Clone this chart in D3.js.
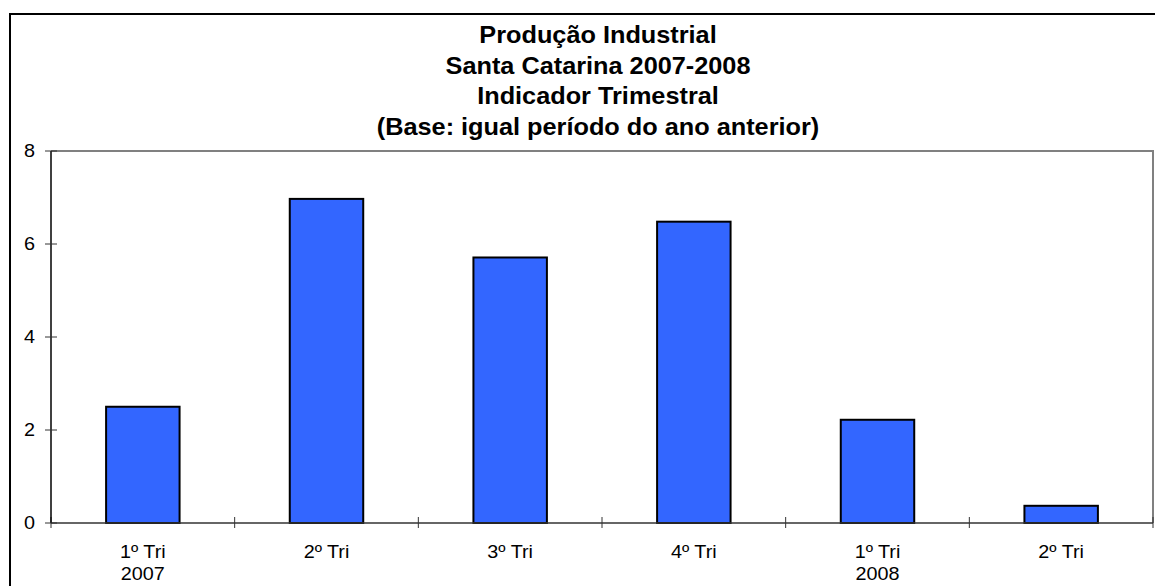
<!DOCTYPE html>
<html>
<head>
<meta charset="utf-8">
<script src="https://cdn.jsdelivr.net/npm/d3@7"></script>
<style>
  body { margin: 0; background: #fff; }
  text { font-family: "Liberation Sans", Arial, sans-serif; }
</style>
</head>
<body>
<div id="chart"></div>
<script>

var titleLines = ["Produção Industrial", "Santa Catarina 2007-2008", "Indicador Trimestral", "(Base: igual período do ano anterior)"];
var quarters = ["1º Tri", "2º Tri", "3º Tri", "4º Tri", "1º Tri", "2º Tri"];
var years = ["2007", "", "", "", "2008", ""];
var values = [2.5, 6.97, 5.71, 6.48, 2.22, 0.37];
var yTicks = [0, 2, 4, 6, 8];

var margin = { left: 51, right: 2, top: 151, bottom: 63 };
var width = 1155 - margin.left - margin.right;
var height = 586 - margin.top - margin.bottom;
var stretch = 1.1; // the original picture's text is a bit wide

var svg = d3.select("#chart")
  .append("svg")
    .attr("width", 1155)
    .attr("height", 586);

// outer chart border (runs off the right and bottom edges)
svg.append("rect")
  .attr("x", 10)
  .attr("y", 14)
  .attr("width", 1200)
  .attr("height", 700)
  .attr("fill", "none")
  .attr("stroke", "#000")
  .attr("stroke-width", 2);

svg.append("g")
  .selectAll("text")
  .data(titleLines).enter()
  .append("text")
    .attr("transform", function(d, i){ return "translate(598," + (43 + i * 30.5) + ") scale(" + stretch + ",1)" })
    .attr("text-anchor", "middle")
    .attr("font-size", "23px")
    .attr("font-weight", "bold")
    .text(function(d){ return d });

var g = svg.append("g")
  .attr("transform", "translate(" + margin.left + "," + margin.top + ")");

var x = d3.scaleBand()
  .domain(d3.range(quarters.length))
  .range([0, width]);

var y = d3.scaleLinear()
  .domain([0, 8])
  .range([height, 0]);

var barW = x.bandwidth() / 2.5;

// plot frame: top and right in gray
g.append("path")
  .attr("d", "M0,0H" + width + "V" + height)
  .attr("fill", "none")
  .attr("stroke", "#808080")
  .attr("stroke-width", 2);

g.selectAll(".bar")
  .data(values).enter()
  .append("rect")
    .attr("class", "bar")
    .attr("x", function(d, i){ return x(i) + (x.bandwidth() - barW) / 2 })
    .attr("y", function(d){ return y(d) })
    .attr("width", barW)
    .attr("height", function(d){ return height - y(d) })
    .attr("fill", "#3366ff")
    .attr("stroke", "#000")
    .attr("stroke-width", 2);

// x axis
var xAxis = g.append("g").attr("transform", "translate(0," + height + ")");
xAxis.append("line")
  .attr("x1", 0).attr("x2", width)
  .attr("stroke", "#333").attr("stroke-width", 1.5);
xAxis.selectAll(".xt")
  .data(d3.range(quarters.length + 1)).enter()
  .append("line")
    .attr("class", "xt")
    .attr("x1", function(d){ return d * x.step() })
    .attr("x2", function(d){ return d * x.step() })
    .attr("y1", -6).attr("y2", 5)
    .attr("stroke", "#333");
var xl = xAxis.selectAll(".xl")
  .data(quarters).enter()
  .append("text")
    .attr("class", "xl")
    .attr("transform", function(d, i){ return "translate(" + (x(i) + x.bandwidth() / 2) + ",0) scale(" + stretch + ",1)" })
    .attr("text-anchor", "middle")
    .attr("font-size", "18px");
xl.append("tspan")
  .attr("x", 0)
  .attr("y", 35)
  .text(function(d){ return d });
xl.append("tspan")
  .attr("x", 0)
  .attr("y", 57)
  .text(function(d, i){ return years[i] });

// y axis
var yAxis = g.append("g");
yAxis.append("line")
  .attr("y1", 0).attr("y2", height)
  .attr("stroke", "#000").attr("stroke-width", 1.5);
yAxis.selectAll(".yt")
  .data(yTicks).enter()
  .append("line")
    .attr("class", "yt")
    .attr("x1", -6).attr("x2", 6)
    .attr("y1", function(d){ return y(d) })
    .attr("y2", function(d){ return y(d) })
    .attr("stroke", "#333");
yAxis.selectAll(".yl")
  .data(yTicks).enter()
  .append("text")
    .attr("class", "yl")
    .attr("transform", function(d){ return "translate(-16," + y(d) + ") scale(" + stretch + ",1)" })
    .attr("dy", "0.35em")
    .attr("text-anchor", "end")
    .attr("font-size", "18px")
    .text(function(d){ return d });

</script>
</body>
</html>
